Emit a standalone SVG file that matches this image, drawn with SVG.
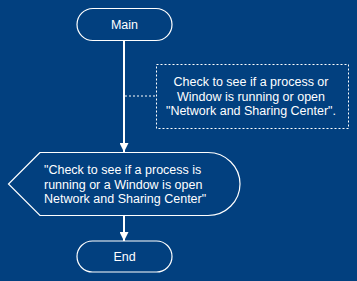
<svg xmlns="http://www.w3.org/2000/svg" width="357" height="281" viewBox="0 0 357 281">
  <style>
    .shape { fill: none; stroke: #ffffff; stroke-width: 1.2; }
    .flow { stroke: #ffffff; stroke-width: 2; fill: none; }
    .note { fill: none; stroke: #ffffff; stroke-width: 1; stroke-dasharray: 2 2; }
    text { font-family: "Liberation Sans", Arial, sans-serif; font-size: 12.5px; fill: #ffffff; }
  </style>
  <defs>
    <marker id="arrow" viewBox="0 0 10 10" refX="10" refY="5" markerWidth="4.5" markerHeight="4.5" markerUnits="strokeWidth" orient="auto">
      <path d="M0,0 L10,5 L0,10 Z" fill="#ffffff"/>
    </marker>
  </defs>
  <rect width="357" height="281" fill="#02407f"/>

  <g id="connectors">
    <line class="flow" x1="124" y1="40" x2="124" y2="152" marker-end="url(#arrow)"/>
    <line class="flow" x1="124" y1="216" x2="124" y2="241" marker-end="url(#arrow)"/>
    <line class="note" x1="125" y1="96" x2="156" y2="96"/>
  </g>

  <g id="main">
    <rect class="shape" x="77" y="8.5" width="95" height="32" rx="16"/>
    <text x="124.5" y="29" text-anchor="middle">Main</text>
  </g>

  <g id="comment">
    <rect class="note" x="156.5" y="64.5" width="192" height="64"/>
    <text x="251" y="86" text-anchor="middle">Check to see if a process or</text>
    <text x="251" y="100.5" text-anchor="middle">Window is running or open</text>
    <text x="251" y="115" text-anchor="middle">"Network and Sharing Center".</text>
  </g>

  <g id="display">
    <path class="shape" d="M40,152.5 L8.5,184 L40,215.5 L208,215.5 A32,31.5 0 0 0 208,152.5 Z"/>
    <text x="44" y="174">"Check to see if a process is</text>
    <text x="44" y="188.5">running or a Window is open</text>
    <text x="44" y="203">Network and Sharing Center"</text>
  </g>

  <g id="end">
    <rect class="shape" x="77" y="241" width="95" height="31" rx="15.5"/>
    <text x="124.5" y="261" text-anchor="middle">End</text>
  </g>
</svg>
